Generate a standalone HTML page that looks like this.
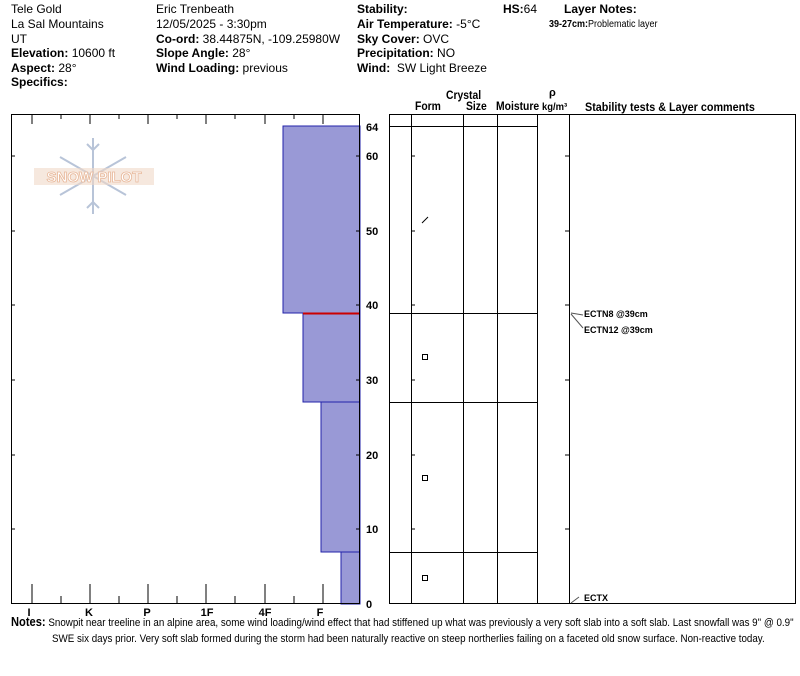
<!DOCTYPE html>
<html><head><style>
body{margin:0;width:800px;height:676px;background:#fff;font-family:"Liberation Sans",Arial,sans-serif;overflow:hidden;position:relative}
.t{position:absolute;font-size:12px;white-space:nowrap;line-height:14px;color:#000}
b{font-weight:bold}
.n{transform:scaleX(0.9);transform-origin:0 0}
</style></head><body>
<div class="t" style="left:11px;top:2px">Tele Gold</div>
<div class="t" style="left:11px;top:17px">La Sal Mountains</div>
<div class="t" style="left:11px;top:32px">UT</div>
<div class="t" style="left:11px;top:46px"><b>Elevation:</b> 10600 ft</div>
<div class="t" style="left:11px;top:61px"><b>Aspect:</b> 28°</div>
<div class="t" style="left:11px;top:75px"><b>Specifics:</b></div>
<div class="t" style="left:156px;top:2px">Eric Trenbeath</div>
<div class="t" style="left:156px;top:17px">12/05/2025 - 3:30pm</div>
<div class="t" style="left:156px;top:32px"><b>Co-ord:</b> 38.44875N, -109.25980W</div>
<div class="t" style="left:156px;top:46px"><b>Slope Angle:</b> 28°</div>
<div class="t" style="left:156px;top:61px"><b>Wind Loading:</b> previous</div>
<div class="t" style="left:357px;top:2px"><b>Stability:</b></div>
<div class="t" style="left:357px;top:17px"><b>Air Temperature:</b> -5°C</div>
<div class="t" style="left:357px;top:32px"><b>Sky Cover:</b> OVC</div>
<div class="t" style="left:357px;top:46px"><b>Precipitation:</b> NO</div>
<div class="t" style="left:357px;top:61px"><b>Wind:</b>&nbsp; SW Light Breeze</div>
<div class="t" style="left:503px;top:2px"><b>HS:</b>64</div>
<div class="t" style="left:564px;top:2px"><b>Layer Notes:</b></div>
<div class="t n" style="left:549px;top:18px;font-size:10px"><b>39-27cm:</b>Problematic layer</div>
<div class="t n" style="left:446px;top:89px;font-size:11.5px"><b>Crystal</b></div>
<div class="t n" style="left:415px;top:100px;font-size:11.5px"><b>Form</b></div>
<div class="t n" style="left:466px;top:100px;font-size:11.5px"><b>Size</b></div>
<div class="t n" style="left:496px;top:100px;font-size:11.5px"><b>Moisture</b></div>
<div class="t" style="left:549px;top:86px;font-size:11px"><b>ρ</b></div>
<div class="t n" style="left:542px;top:100px;font-size:10.5px"><b>kg/m³</b></div>
<div class="t n" style="left:585px;top:100px;font-size:12px"><b>Stability tests &amp; Layer comments</b></div>
<svg width="800" height="676" style="position:absolute;left:0;top:0" font-family="Liberation Sans,Arial,sans-serif">
<g fill="#9999d6" stroke="#2222aa" stroke-width="1">
<rect x="283" y="126" width="77" height="187"/>
<rect x="303" y="313" width="57" height="89"/>
<rect x="321" y="402" width="39" height="150"/>
<rect x="341" y="552" width="19" height="52"/>
</g>
<line x1="303" y1="313.5" x2="360" y2="313.5" stroke="#cc0000" stroke-width="2"/>
<rect x="11.5" y="114.5" width="348" height="489" fill="none" stroke="#000"/>
<g stroke="#000">
<path d="M32 604v-20M90 604v-20M148 604v-20M206 604v-20M265 604v-20M323 604v-20M61 604v-8M119 604v-8M177 604v-8M235 604v-8M294 604v-8"/>
<path d="M32 114v10M90 114v10M148 114v10M206 114v10M265 114v10M323 114v10M61 114v5M119 114v5M177 114v5M235 114v5M294 114v5"/>
<path d="M11 156h4M11 231h4M11 305h4M11 380h4M11 455h4M11 529h4M356 156h4M356 231h4M356 305h4M356 380h4M356 455h4M356 529h4"/>
</g>
<g font-size="11" font-weight="bold" text-anchor="middle">
<text x="29" y="616">I</text><text x="89" y="616">K</text><text x="147" y="616">P</text><text x="207" y="616">1F</text><text x="265" y="616">4F</text><text x="320" y="616">F</text>
</g>
<g font-size="11" font-weight="bold">
<text x="366" y="131">64</text><text x="366" y="160">60</text><text x="366" y="235">50</text><text x="366" y="309">40</text><text x="366" y="384">30</text><text x="366" y="459">20</text><text x="366" y="533">10</text><text x="366" y="608">0</text>
</g>
<rect x="389.5" y="114.5" width="406" height="489" fill="none" stroke="#000"/>
<g stroke="#000">
<path d="M411.5 114v490M463.5 114v490M497.5 114v490M537.5 114v490M569.5 114v490"/>
<path d="M389 126.5h148M389 313.5h148M389 402.5h148M389 552.5h148"/>
<path d="M411 156h4M411 231h4M411 305h4M411 380h4M411 455h4M411 529h4M565 156h4M565 231h4M565 305h4M565 380h4M565 455h4M565 529h4"/>
<path d="M422 223l6-6"/>
</g>
<g fill="none" stroke="#000"><rect x="422.5" y="354.5" width="5" height="5"/><rect x="422.5" y="475.5" width="5" height="5"/><rect x="422.5" y="575.5" width="5" height="5"/></g>
<g stroke="#555" fill="none"><path d="M571 313l12 2M571 314l12 14M571 603l8-6"/></g>
<g font-size="9" font-weight="bold"><text x="584" y="317">ECTN8 @39cm</text><text x="584" y="333">ECTN12 @39cm</text><text x="584" y="601">ECTX</text></g>
<g transform="translate(93,176)" stroke="#b8c4d8" stroke-width="2" fill="none">
<path d="M0-38v76M-33-19l66 38M-33 19l66-38M-6-32l6 6 6-6M-6 32l6-6 6 6"/>
</g>
<rect x="34" y="168" width="120" height="17" fill="#f0d8c8" opacity="0.6"/>
<text x="94" y="182" font-size="15" font-weight="bold" fill="#fff" stroke="#e8b89a" stroke-width="0.8" text-anchor="middle">SNOW PILOT</text>
</svg>
<div class="t" style="left:11px;top:615px;font-size:11px;transform:scaleX(0.89);transform-origin:0 0"><b style="font-size:12.5px">Notes:</b> Snowpit near treeline in an alpine area, some wind loading/wind effect that had stiffened up what was previously a very soft slab into a soft slab. Last snowfall was 9" @ 0.9"</div>
<div class="t" style="left:52px;top:632px;font-size:11px;transform:scaleX(0.89);transform-origin:0 0">SWE six days prior. Very soft slab formed during the storm had been naturally reactive on steep northerlies failing on a faceted old snow surface. Non-reactive today.</div>
</body></html>
